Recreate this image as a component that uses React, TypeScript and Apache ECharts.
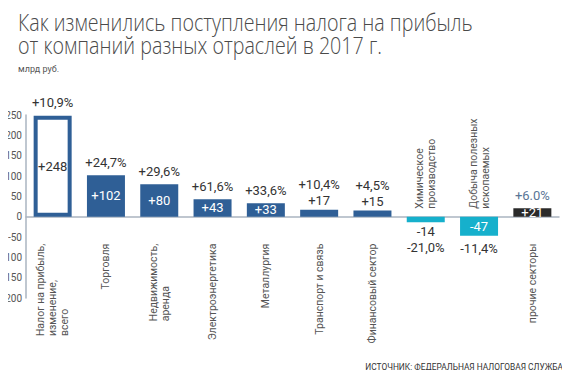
import React, { useEffect, useRef } from "react";
import * as echarts from "echarts";

const categories = [
  "Налог на прибыль,\nизменение,\nвсего",
  "Торговля",
  "Недвижимость,\nаренда",
  "Электроэнергетика",
  "Металлургия",
  "Транспорт и связь",
  "Финансовый сектор",
  "Химическое\nпроизводство",
  "Добыча полезных\nископаемых",
  "прочие секторы",
];
const values = [248, 102, 80, 43, 33, 17, 15, -14, -47, 21];
const changePct = ["+10,9%", "+24,7%", "+29,6%", "+61,6%", "+33,6%", "+10,4%", "+4,5%", "-21,0%", "-11,4%", "+6.0%"];
const groups = ["total", "sector", "sector", "sector", "sector", "sector", "sector", "sector", "sector", "other"];
const yMin = -200;
const yMax = 250;
const yStep = 50;

const TITLE = "Как изменились поступления налога на прибыль\nот компаний разных отраслей в 2017 г.";
const UNIT = "млрд руб.";
const SOURCE = "ИСТОЧНИК: ФЕДЕРАЛЬНАЯ НАЛОГОВАЯ СЛУЖБА";

const BLUE = "#2f5f96";
const CYAN = "#16b0cc";
const DARK = "#2a2a2a";
const FONT = "Roboto, 'Open Sans', sans-serif";
const TFONT = "'Open Sans', 'Noto Sans', sans-serif";

const GRID_TOP = 115;
const GRID_BOTTOM = 80;
const H = 378;

const fmtVal = (v: number) => (v > 0 ? "+" + v : String(v));
const richLines = (s: string) => s.split("\n").map((l) => `{a|${l}}`).join("\n");

export default function App() {
  const ref = useRef<HTMLDivElement>(null);
  useEffect(() => {
    if (!ref.current) return;
    const chart = echarts.init(ref.current, undefined, { renderer: "svg" });

    const plotH = H - GRID_TOP - GRID_BOTTOM;
    const zeroY = GRID_TOP + (plotH * yMax) / (yMax - yMin);
    const bottomEdge = H - GRID_BOTTOM;

    const barData = values.map((v, i) => {
      const g = groups[i];
      const inside = Math.abs(v) >= 20;
      const color = g === "other" ? DARK : v < 0 ? CYAN : BLUE;
      return {
        value: v,
        itemStyle:
          g === "total"
            ? { color: "#fff", borderColor: BLUE, borderWidth: 4 }
            : { color },
        label: {
          show: inside,
          position: "inside",
          color: g === "total" ? "#333" : "#fff",
          fontSize: 13,
          fontFamily: FONT,
          formatter: () => fmtVal(v),
        },
      };
    });

    const overlayData = values.map((v, i) => {
      const inside = Math.abs(v) >= 20;
      const pStyle = groups[i] === "other" ? "po" : "p";
      let text: string;
      if (v >= 0) {
        text = inside ? `{${pStyle}|${changePct[i]}}` : `{${pStyle}|${changePct[i]}}\n{v|${fmtVal(v)}}`;
      } else {
        text = inside ? `{${pStyle}|${changePct[i]}}` : `{v|${fmtVal(v)}}\n{${pStyle}|${changePct[i]}}`;
      }
      return {
        value: v,
        label: {
          show: true,
          position: v >= 0 ? "top" : "bottom",
          distance: inside ? 5 : 1,
          formatter: () => text,
        },
      };
    });

    // category names of the negative bars sit above the zero line
    const upperNameData = values.map((v, i) => ({
      value: 0,
      label: {
        show: v < 0,
        position: "top",
        distance: 8,
        rotate: 90,
        align: "left",
        verticalAlign: "middle",
        formatter: () => richLines(categories[i]),
      },
    }));

    const labelRich = {
      a: { align: "left", fontSize: 10.5, lineHeight: 12, color: "#555", fontFamily: FONT },
    };

    chart.setOption({
      animation: false,
      graphic: [
        {
          type: "text",
          x: 18,
          y: 10,
          scaleX: 0.82,
          style: {
            text: TITLE,
            font: `300 24px ${TFONT}`,
            lineHeight: 23,
            fill: "#4a4a4a",
            verticalAlign: "top",
          },
        },
        {
          type: "text",
          x: 18,
          y: 64,
          style: { text: UNIT, font: `9px ${FONT}`, fill: "#555", verticalAlign: "top" },
        },
        {
          type: "text",
          x: 563,
          y: 362,
          scaleX: 0.88,
          style: { text: SOURCE, font: `9.5px ${FONT}`, fill: "#333", align: "right", verticalAlign: "top" },
        },
      ],
      grid: { left: 26, right: 11, top: GRID_TOP, bottom: GRID_BOTTOM, containLabel: false, outerBoundsMode: "none" },
      xAxis: {
        type: "category",
        data: categories,
        position: "bottom",
        axisLine: { show: true, onZero: true, lineStyle: { color: "#aab4c0", width: 1.5 } },
        axisTick: { show: false },
        axisLabel: {
          rotate: 90,
          margin: zeroY + 27 - bottomEdge,
          interval: 0,
          formatter: (val: string, idx: number) => (values[idx] < 0 ? "" : richLines(val)),
          rich: labelRich,
        },
      },
      yAxis: {
        type: "value",
        min: yMin,
        max: yMax,
        interval: yStep,
        splitLine: { show: false },
        axisLine: { show: true, lineStyle: { color: "#aab4c0", width: 1.5 } },
        axisTick: { show: false },
        axisLabel: { color: "#555", fontSize: 10, margin: 4, fontFamily: FONT },
      },
      series: [
        {
          type: "bar",
          data: barData,
          barWidth: 38,
          barGap: "-100%",
        },
        {
          type: "bar",
          data: overlayData,
          barWidth: 38,
          barGap: "-100%",
          itemStyle: { color: "rgba(0,0,0,0)" },
          label: {
            fontFamily: FONT,
            rich: {
              p: { fontSize: 13, color: "#333", lineHeight: 16, fontFamily: FONT },
              po: { fontSize: 13, color: "#5a7596", lineHeight: 16, fontFamily: FONT },
              v: { fontSize: 13, color: "#333", lineHeight: 16, fontFamily: FONT },
            },
          },
        },
        {
          type: "bar",
          data: upperNameData,
          barWidth: 38,
          barGap: "-100%",
          itemStyle: { color: "rgba(0,0,0,0)" },
          label: { rich: labelRich },
        },
      ],
    });
    return () => chart.dispose();
  }, []);
  return <div ref={ref} style={{ width: 570, height: 378, margin: -8 }} />;
}
